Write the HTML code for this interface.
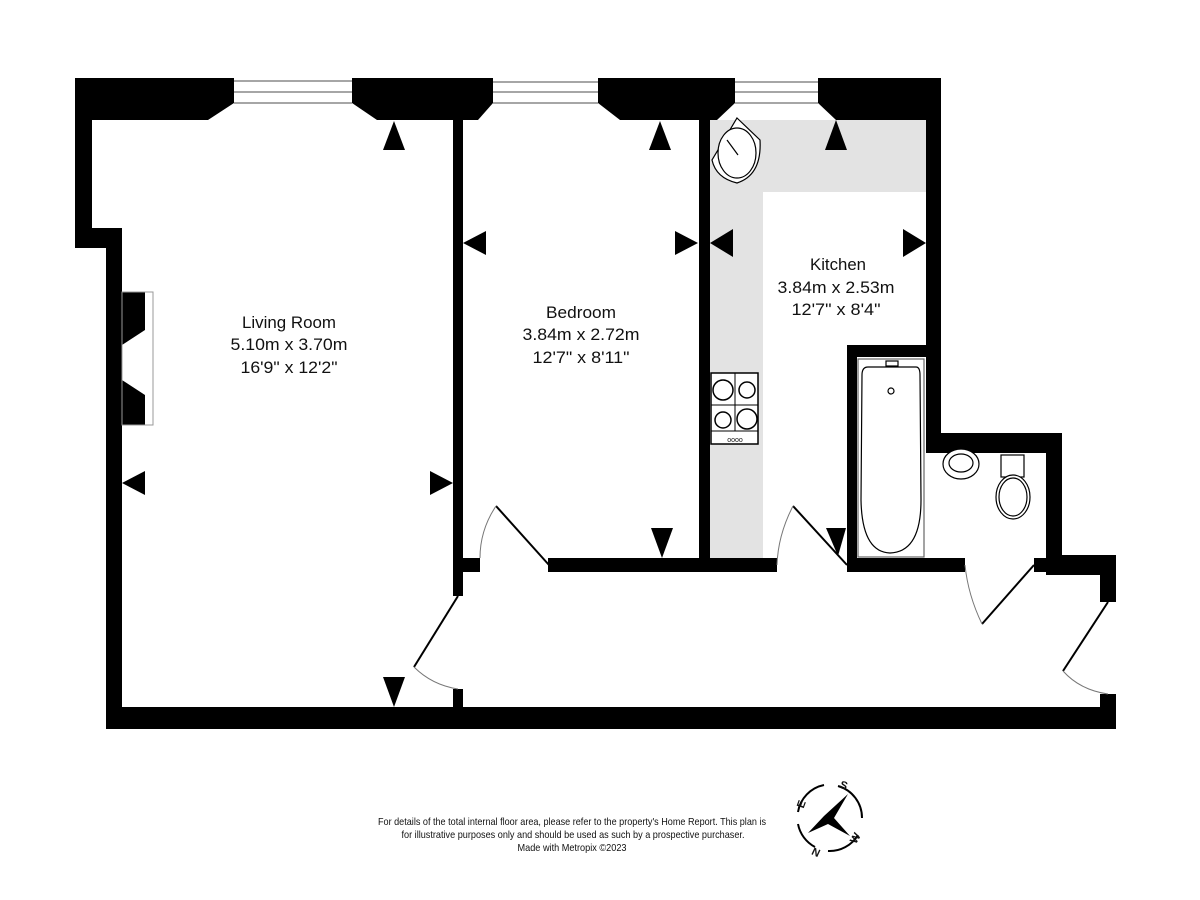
<!DOCTYPE html>
<html><head><style>
html,body{margin:0;padding:0;background:#fff;}
svg{display:block;}
text{font-family:"Liberation Sans",sans-serif;fill:#111;}
</style></head><body>
<svg width="1200" height="900" viewBox="0 0 1200 900" xmlns="http://www.w3.org/2000/svg">
<rect width="1200" height="900" fill="#fff"/>
<rect x="710" y="120" width="53" height="438" fill="#e3e3e3"/>
<rect x="710" y="120" width="216" height="72" fill="#e3e3e3"/>
<g fill="#000">
<polygon points="75,78 234,78 234,103 208,120 92,120 92,78"/>
<polygon points="352,78 493,78 493,103 478,120 377,120 352,103"/>
<polygon points="598,78 717,78 735,78 735,103 717,120 620,120 598,103"/>
<polygon points="818,78 941,78 941,120 836,120 818,103"/>
<rect x="75" y="78" width="17" height="170"/>
<rect x="75" y="228" width="47" height="20"/>
<rect x="106" y="228" width="16" height="501"/>
<rect x="106" y="707" width="1010" height="22"/>
<rect x="453" y="118" width="10" height="478"/>
<rect x="453" y="689" width="10" height="20"/>
<rect x="462" y="558" width="18" height="14"/>
<rect x="548" y="558" width="229" height="14"/>
<rect x="699" y="118" width="11" height="454"/>
<rect x="926" y="78" width="15" height="375"/>
<rect x="847" y="345" width="94" height="12"/>
<rect x="847" y="345" width="10" height="227"/>
<rect x="847" y="558" width="118" height="14"/>
<rect x="926" y="433" width="136" height="20"/>
<rect x="1046" y="433" width="16" height="142"/>
<rect x="1034" y="558" width="14" height="14"/>
<rect x="1046" y="555" width="70" height="20"/>
<rect x="1100" y="555" width="16" height="47"/>
<rect x="1100" y="694" width="16" height="35"/>
<polygon points="122,292 145,292 145,330 122,345 122,380 145,395 145,425 122,425"/>
</g>
<rect x="122" y="292" width="31" height="133" fill="none" stroke="#999" stroke-width="1"/>
<g stroke="#888" stroke-width="1.5">
<line x1="234" y1="81" x2="352" y2="81"/><line x1="234" y1="92" x2="352" y2="92"/><line x1="234" y1="103" x2="352" y2="103"/>
<line x1="493" y1="82" x2="598" y2="82"/><line x1="493" y1="92" x2="598" y2="92"/><line x1="493" y1="103" x2="598" y2="103"/>
<line x1="735" y1="82" x2="818" y2="82"/><line x1="735" y1="92" x2="818" y2="92"/><line x1="735" y1="103" x2="818" y2="103"/>
</g>
<g fill="#000">
<polygon points="394,121 383,150 405,150"/>
<polygon points="122,483 145,471 145,495"/>
<polygon points="453,483 430,471 430,495"/>
<polygon points="394,707 383,677 405,677"/>
<polygon points="463,243 486,231 486,255"/>
<polygon points="660,121 649,150 671,150"/>
<polygon points="698,243 675,231 675,255"/>
<polygon points="662,558 651,528 673,528"/>
<polygon points="710,243 733,229 733,257"/>
<polygon points="836,120 825,150 847,150"/>
<polygon points="926,243 903,229 903,257"/>
<polygon points="838,556 826,528 846,528"/>
</g>
<g stroke="#000" stroke-width="2" fill="none">
<line x1="549" y1="565" x2="496" y2="506"/>
<line x1="458" y1="596" x2="414" y2="667"/>
<line x1="847" y1="565" x2="793" y2="506"/>
<line x1="1034" y1="565" x2="982" y2="624"/>
<line x1="1108" y1="602" x2="1063" y2="671"/>
</g>
<g stroke="#777" stroke-width="1" fill="none">
<path d="M496,506 Q480,530 480,558"/>
<path d="M414,667 Q432,685 458,689"/>
<path d="M793,506 Q778,535 777,565"/>
<path d="M982,624 Q968,595 965,565"/>
<path d="M1063,671 Q1080,690 1108,694"/>
</g>
<g stroke="#000" fill="#fff" stroke-width="1.5">
<rect x="711" y="373" width="47" height="71"/>
<line x1="711" y1="405" x2="758" y2="405" stroke-width="1"/>
<line x1="735" y1="373" x2="735" y2="431" stroke-width="1"/>
<line x1="711" y1="431" x2="758" y2="431" stroke-width="1"/>
<circle cx="723" cy="390" r="10"/><circle cx="747" cy="390" r="8"/>
<circle cx="723" cy="420" r="8"/><circle cx="747" cy="419" r="10"/>
</g>
<text x="735" y="442" font-size="7" text-anchor="middle">oooo</text>
<g stroke="#000" fill="#fff" stroke-width="1.2">
<path d="M737,118 L760,140 Q762,175 737,183 Q716,178 712,160 Z"/>
<ellipse cx="737" cy="153" rx="19" ry="25"/>
<line x1="727" y1="140" x2="738" y2="155"/>
</g>
<g stroke="#000" fill="#fff" stroke-width="1.2">
<rect x="858" y="359" width="66" height="198" stroke="#666"/>
<path d="M868,367 L916,367 Q920,367 920,375 L921,500 Q921,552 890,553 Q862,552 861,500 L862,375 Q862,367 868,367 Z"/>
<circle cx="891" cy="391" r="3"/>
<rect x="886" y="361" width="12" height="5"/>
</g>
<g stroke="#000" fill="#fff" stroke-width="1.2">
<ellipse cx="961" cy="464" rx="18" ry="15"/>
<ellipse cx="961" cy="463" rx="12" ry="9"/>
<rect x="1001" y="455" width="23" height="22"/>
<ellipse cx="1013" cy="497" rx="17" ry="22"/>
<ellipse cx="1013" cy="497" rx="14" ry="19"/>
</g>
<g font-size="17" text-anchor="middle" lengthAdjust="spacingAndGlyphs">
<text x="289" y="328" textLength="94" lengthAdjust="spacingAndGlyphs">Living Room</text>
<text x="289" y="350" textLength="117" lengthAdjust="spacingAndGlyphs">5.10m  x 3.70m</text>
<text x="289" y="373" textLength="97" lengthAdjust="spacingAndGlyphs">16'9"  x 12'2"</text>
<text x="581" y="318" textLength="70" lengthAdjust="spacingAndGlyphs">Bedroom</text>
<text x="581" y="340" textLength="117" lengthAdjust="spacingAndGlyphs">3.84m  x 2.72m</text>
<text x="581" y="363" textLength="97" lengthAdjust="spacingAndGlyphs">12'7"  x 8'11"</text>
<text x="838" y="270" textLength="56" lengthAdjust="spacingAndGlyphs">Kitchen</text>
<text x="836" y="293" textLength="117" lengthAdjust="spacingAndGlyphs">3.84m  x 2.53m</text>
<text x="836" y="315" textLength="89" lengthAdjust="spacingAndGlyphs">12'7"  x 8'4"</text>
</g>
<g font-size="10.5" text-anchor="middle">
<text x="572" y="825" textLength="388" lengthAdjust="spacingAndGlyphs">For details of the total internal floor area, please refer to the property's Home Report. This plan is</text>
<text x="573" y="838" textLength="343" lengthAdjust="spacingAndGlyphs">for illustrative purposes only and should be used as such by a prospective purchaser.</text>
<text x="572" y="851" textLength="109" lengthAdjust="spacingAndGlyphs">Made with Metropix ©2023</text>
</g>
<g transform="translate(830,818)">
<path d="M-6,-33 A33,33 0 0 0 -32,-6 M-32,6 A33,33 0 0 0 -15,29 M-2,33 A33,33 0 0 0 28,17 M32,0 A33,33 0 0 0 8,-32" fill="none" stroke="#000" stroke-width="2"/>
<polygon points="18,-24 4,0 20,18 -2,6 -22,15 -6,-2" fill="#000"/>
<g font-size="11" font-weight="bold" text-anchor="middle">
<text x="14" y="-29" transform="rotate(20 14 -33)">S</text>
<text x="-29" y="-10" transform="rotate(-70 -29 -14)">E</text>
<text x="25" y="24" transform="rotate(-60 25 20)">W</text>
<text x="-14" y="38" transform="rotate(25 -14 34)">N</text>
</g>
</g>
</svg>
</body></html>
